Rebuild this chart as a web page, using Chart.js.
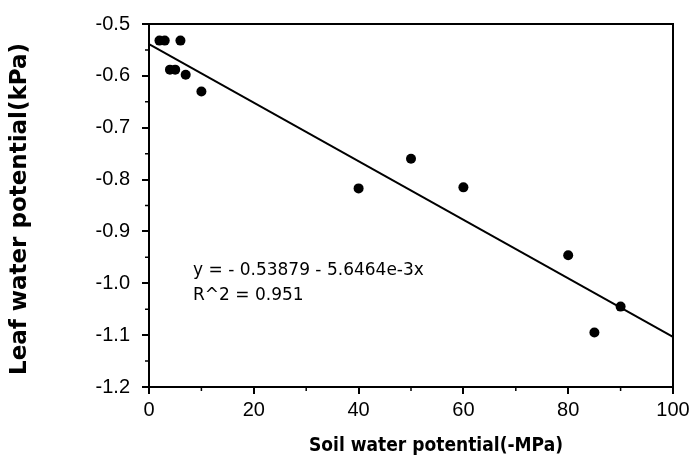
<!DOCTYPE html>
<html>
<head>
<meta charset="utf-8">
<script src="https://cdn.jsdelivr.net/npm/chart.js@4"></script>
<style>
  body { margin: 0; background: #fff; }
  #wrap { width: 695px; height: 468px; }
</style>
</head>
<body>
<div id="wrap"><canvas id="chart" width="695" height="468"></canvas></div>
<script>
// Soil vs leaf water potential measurements
const soilPotential = [2, 3, 6, 4, 5, 7, 10, 40, 50, 60, 80, 85, 90];
const leafPotential = [-0.532, -0.532, -0.532, -0.588, -0.588, -0.598, -0.63, -0.817, -0.76, -0.815, -0.946, -1.095, -1.045];

// Linear fit as reported on the chart
const fitIntercept = -0.53879;
const fitSlope = -5.6464e-3;
const fitR2 = "0.951";

const xTicks = [0, 20, 40, 60, 80, 100];
const xMinor = [10, 30, 50, 70, 90];
const yTicks = [-0.5, -0.6, -0.7, -0.8, -0.9, -1.0, -1.1, -1.2];
const yMinor = [-0.55, -0.65, -0.75, -0.85, -0.95, -1.05, -1.15];

const xTitle = "Soil water potential(-MPa)";
const yTitle = "Leaf water potential(kPa)";

const points = soilPotential.map((x, i) => ({ x: x, y: leafPotential[i] }));
const fitLine = [0, 100].map((x) => ({ x: x, y: fitIntercept + fitSlope * x }));

// frame, minor ticks, axis titles and the equation text
const extras = {
  id: "extras",
  afterDraw(chart) {
    const ctx = chart.ctx;
    const a = chart.chartArea;
    const xs = chart.scales.x;
    const ys = chart.scales.y;
    ctx.save();
    ctx.strokeStyle = "#000";
    ctx.lineWidth = 2;
    ctx.strokeRect(a.left, a.top, a.right - a.left, a.bottom - a.top);

    ctx.lineWidth = 1.5;
    ctx.beginPath();
    xMinor.forEach((v) => {
      const px = xs.getPixelForValue(v);
      ctx.moveTo(px, a.bottom);
      ctx.lineTo(px, a.bottom + 4);
    });
    yMinor.forEach((v) => {
      const py = ys.getPixelForValue(v);
      ctx.moveTo(a.left - 4, py);
      ctx.lineTo(a.left, py);
    });
    ctx.stroke();

    ctx.fillStyle = "#000";
    ctx.textBaseline = "middle";
    ctx.textAlign = "center";
    ctx.font = "bold 20px 'DejaVu Sans'";
    ctx.fillText(xTitle, 436, 446, 254);

    ctx.save();
    ctx.translate(20, 209);
    ctx.rotate(-Math.PI / 2);
    ctx.font = "bold 23px 'DejaVu Sans'";
    ctx.fillText(yTitle, 0, 0, 332);
    ctx.restore();

    ctx.textAlign = "left";
    ctx.font = "17px 'DejaVu Sans'";
    const tx = xs.getPixelForValue(8.4);
    ctx.fillText("y = - 0.53879 - 5.6464e-3x", tx, ys.getPixelForValue(-0.976), 286);
    ctx.fillText("R^2 = " + fitR2, tx, ys.getPixelForValue(-1.023));
    ctx.restore();
  }
};

const tickFont = { family: "Liberation Sans", size: 20 };

new Chart(document.getElementById("chart"), {
  type: "scatter",
  data: {
    datasets: [
      {
        data: points,
        backgroundColor: "#000",
        borderWidth: 0,
        pointRadius: 5,
        pointHoverRadius: 5
      },
      {
        data: fitLine,
        showLine: true,
        borderColor: "#000",
        borderWidth: 2,
        pointRadius: 0
      }
    ]
  },
  options: {
    responsive: false,
    animation: false,
    devicePixelRatio: 1,
    layout: { padding: { top: 15, right: 22, left: 0, bottom: 0 } },
    plugins: { legend: { display: false }, tooltip: { enabled: false } },
    scales: {
      x: {
        type: "linear",
        min: 0,
        max: 100,
        afterBuildTicks: (s) => { s.ticks = xTicks.map((v) => ({ value: v })); },
        afterFit: (s) => { s.height = 81; },
        grid: { drawOnChartArea: false, tickLength: 7, color: "#000", lineWidth: 2 },
        border: { display: true, color: "#000", width: 2 },
        ticks: { color: "#000", font: tickFont, padding: 4, maxRotation: 0 }
      },
      y: {
        type: "linear",
        min: -1.2,
        max: -0.5,
        afterBuildTicks: (s) => { s.ticks = yTicks.map((v) => ({ value: v })); },
        afterFit: (s) => { s.width = 149; },
        grid: { drawOnChartArea: false, tickLength: 7, color: "#000", lineWidth: 2 },
        border: { display: true, color: "#000", width: 2 },
        ticks: {
          color: "#000",
          font: tickFont,
          padding: 12,
          callback: (v) => v.toFixed(1)
        }
      }
    }
  },
  plugins: [extras]
});
</script>
</body>
</html>
